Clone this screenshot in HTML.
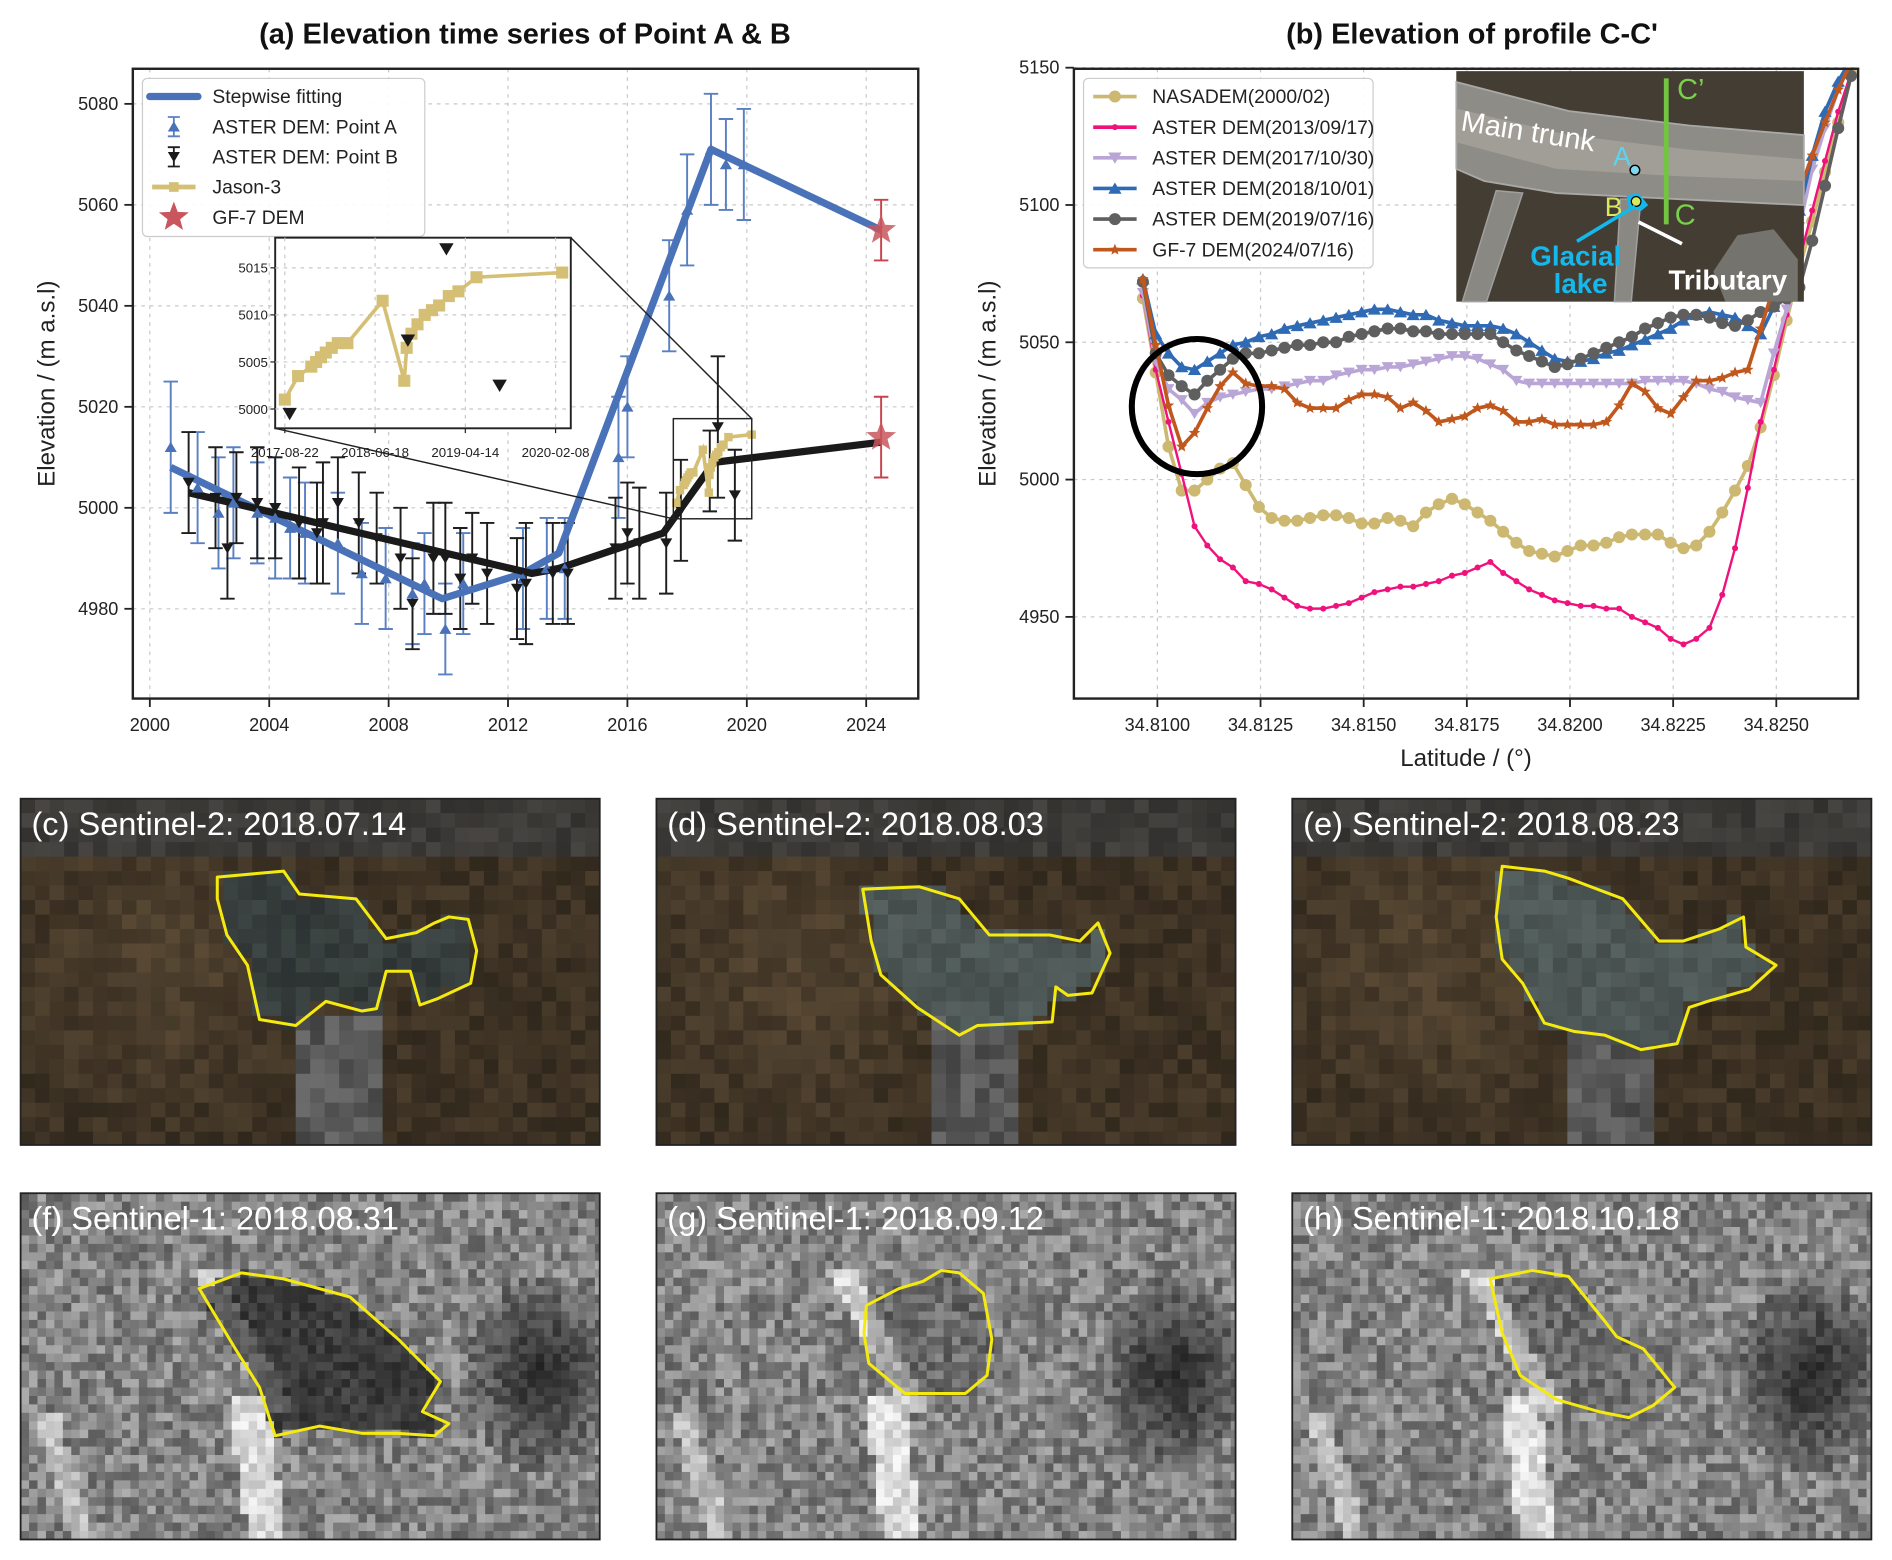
<!DOCTYPE html>
<html><head><meta charset="utf-8">
<style>
html,body{margin:0;padding:0;background:#fff;}
svg{display:block;font-family:"Liberation Sans",Arial,sans-serif;}
</style></head>
<body>
<svg id="root" width="1892" height="1560" viewBox="0 0 1568 1293" xmlns="http://www.w3.org/2000/svg">
<defs>
<clipPath id="clipA"><rect x="110" y="57" width="651" height="522"/></clipPath>
<clipPath id="clipB"><rect x="890" y="57" width="650" height="522"/></clipPath>
<clipPath id="clipIn"><rect x="228" y="197" width="245" height="158"/></clipPath>
</defs>
<g id="panelA"></g>
<g id="panelB"></g>
<g id="imgs"></g>
</svg>
<script>
// ---------- Panel (a) data ----------
const pointAYears=[2000.7,2001.6,2002.3,2002.8,2003.6,2004.2,2004.7,2005.2,2006.3,2007.1,2007.9,2008.8,2009.2,2009.9,2010.5,2012.5,2013.3,2013.9,2015.7,2016.0,2017.4,2018.0,2018.8,2019.3,2019.9];
const pointAVals=[5012,5004,4999,5001,4999,4998,4996,4995,4993,4987,4986,4983,4985,4976,4985,4986,4988,4988,5010,5020,5042,5059,5071,5068,5068];
const pointAErr=[13,11,11,11,10,12,10,10,10,10,10,10,10,9,10,10,10,10,12,10,11,11,11,9,11];
const pointBYears=[2001.3,2002.2,2002.6,2002.9,2003.6,2004.2,2005.0,2005.6,2005.8,2006.3,2007.0,2007.6,2008.4,2008.8,2009.5,2009.9,2010.4,2010.8,2011.3,2012.3,2012.6,2013.5,2014.0,2015.6,2016.0,2016.4,2017.3,2017.79,2018.76,2019.03,2019.6];
const pointBVals=[5005,5002,4992,5002,5001,5000,4997,4995,4997,5001,4997,4994,4990,4981,4990,4990,4986,4990,4987,4984,4985,4987,4987,4992,4995,4993,4993,4999.5,5007.3,5016,5002.5];
const pointBErr=[10,10,10,9,11,10,11,10,12,9,10,9,10,9,11,11,10,9,10,10,12,10,10,10,10,11,10,10,8,14,9];
const fitAYears=[2000.7,2009.8,2012.5,2013.7,2018.8,2024.5];
const fitAVals=[5008,4982,4987,4991,5071,5055];
const fitBYears=[2001.3,2012.8,2013.7,2017.2,2018.9,2024.5];
const fitBVals=[5003,4987,4988,4995,5009,5013];
const gf7Years=[2024.5,2024.5];
const gf7Vals=[5055,5014];
const gf7Err=[6,8];
const jasonDays=[0,44,88,104,120,136,156,176,208,325,397,405,421,441,465,489,513,545,577,637,922];
const jasonVals=[5001,5003.5,5004.5,5005,5005.5,5006,5006.5,5007,5007,5011.5,5003,5006.5,5008,5009,5010,5010.5,5011,5012,5012.5,5014,5014.5];
const insetBDays=[16,409,537,714];
const insetBVals=[4999.5,5007.3,5017,5002.5];
const aXTicks=[2000,2004,2008,2012,2016,2020,2024];
const aYTicks=[4980,5000,5020,5040,5060,5080];
const insetYTicks=[5000,5005,5010,5015];
const insetXTickDays=[0,300,600,900];
const insetXTickLabels=["2017-08-22","2018-06-18","2019-04-14","2020-02-08"];

// ---------- Panel (b) data ----------
const lats=[34.80965,34.80996,34.81027,34.81059,34.81090,34.81121,34.81152,34.81183,34.81214,34.81246,34.81277,34.81308,34.81339,34.81370,34.81402,34.81433,34.81464,34.81495,34.81526,34.81558,34.81589,34.81620,34.81651,34.81682,34.81714,34.81745,34.81776,34.81807,34.81838,34.81870,34.81901,34.81932,34.81963,34.81994,34.82026,34.82057,34.82088,34.82119,34.82150,34.82182,34.82213,34.82244,34.82275,34.82306,34.82338,34.82369,34.82400,34.82431,34.82462,34.82494,34.82525,34.82556,34.82587,34.82618,34.82650,34.82681];
const nasadem=[5066,5039,5012,4996,4996,5000,5004,5006,4998,4990,4986,4985,4985,4986,4987,4987,4986,4984,4984,4986,4985,4983,4988,4991,4993,4991,4988,4985,4981,4977,4974,4973,4972,4974,4976,4976,4977,4979,4980,4980,4980,4977,4975,4976,4981,4988,4996,5005,5019,5038,5058,5077,5094,5112,5130,5148];
const aster2013=[5067,5040,5021,5002,4983,4976,4971,4968,4963,4962,4960,4957,4954,4953,4953,4954,4955,4957,4959,4960,4961,4961,4962,4963,4965,4966,4968,4970,4966,4963,4960,4958,4956,4955,4954,4954,4953,4953,4950,4948,4946,4942,4940,4942,4946,4958,4975,4997,5021,5040,5060,5080,5098,5116,5134,5148];
const aster2017=[5068,5043,5033,5029,5024,5028,5030,5031,5032,5033,5033,5034,5035,5036,5036,5038,5039,5040,5040,5041,5041,5042,5043,5044,5045,5045,5044,5042,5040,5036,5035,5035,5035,5035,5035,5035,5035,5035,5035,5036,5036,5036,5036,5035,5033,5032,5030,5029,5028,5046,5062,5092,5113,5128,5142,5152];
const aster2018=[5073,5053,5046,5041,5040,5043,5046,5049,5050,5052,5053,5055,5056,5057,5058,5059,5060,5061,5062,5062,5061,5060,5060,5058,5057,5056,5056,5056,5055,5053,5050,5047,5044,5043,5043,5044,5046,5047,5049,5051,5053,5055,5058,5060,5061,5060,5059,5056,5053,5063,5076,5098,5118,5134,5145,5153];
const aster2019=[5072,5046,5038,5034,5031,5036,5040,5044,5046,5046,5047,5048,5049,5049,5050,5050,5052,5053,5054,5055,5055,5054,5054,5053,5053,5053,5053,5053,5050,5047,5045,5043,5041,5042,5044,5046,5048,5050,5052,5055,5057,5059,5060,5060,5059,5057,5056,5058,5061,5063,5066,5070,5087,5107,5128,5147];
const gf7Profile=[5073,5049,5027,5012,5017,5026,5034,5039,5035,5034,5034,5033,5028,5026,5026,5026,5029,5031,5031,5030,5026,5028,5025,5021,5022,5023,5026,5027,5025,5021,5021,5022,5020,5020,5020,5020,5021,5027,5035,5032,5026,5024,5030,5036,5036,5037,5039,5040,5055,5070,5090,5105,5118,5130,5142,5152];
const bXTicks=[34.81,34.8125,34.815,34.8175,34.82,34.8225,34.825];
const bXTickLabels=["34.8100","34.8125","34.8150","34.8175","34.8200","34.8225","34.8250"];
const bYTicks=[4950,5000,5050,5100,5150];

const NS="http://www.w3.org/2000/svg";
function mk(tag,attrs,parent){const e=document.createElementNS(NS,tag);for(const k in attrs)e.setAttribute(k,attrs[k]);if(parent)parent.appendChild(e);return e;}
function txt(s,attrs,parent){const e=mk("text",attrs,parent);e.textContent=s;return e;}

const xA=y=>124.1+(y-2000)*24.74;
const yA=v=>420.9-(v-5000)*4.185;
const xB=l=>959.2+(l-34.81)*34200;
const yB=v=>397.5-(v-5000)*2.276;
const xIn=d=>236+d*74.8/300;
const yIn=v=>339-(v-5000)*7.8;
const jDayToYear=d=>2017.64+d/365.25;

function tri(g,x,y,s,down,fill,name){
  const p=down?`${x-s},${y-s*0.8} ${x+s},${y-s*0.8} ${x},${y+s*0.9}`:`${x-s},${y+s*0.8} ${x+s},${y+s*0.8} ${x},${y-s*0.9}`;
  const e=mk("polygon",{points:p,fill:fill},g);
  
  
  return e;
}
function star(cx,cy,R,r){let p=[];for(let i=0;i<10;i++){const a=-Math.PI/2+i*Math.PI/5;const rr=i%2?r:R;p.push((cx+rr*Math.cos(a)).toFixed(1)+","+(cy+rr*Math.sin(a)).toFixed(1));}return p.join(" ");}

// ===================== PANEL A =====================
(function(){
const g=document.getElementById("panelA");
const t=txt("(a) Elevation time series of Point A & B",{x:435,y:36,"text-anchor":"middle","font-size":24,"font-weight":"bold",fill:"#111"},g);


const grid=mk("g",{stroke:"#c8c8c8","stroke-width":1,"stroke-dasharray":"3,4"},g);


aXTicks.forEach(v=>{mk("line",{x1:xA(v),x2:xA(v),y1:57,y2:579},grid);});
aYTicks.forEach(v=>{mk("line",{x1:110,x2:761,y1:yA(v),y2:yA(v)},grid);});
const ax=mk("g",{},g);


aXTicks.forEach(v=>{mk("line",{x1:xA(v),x2:xA(v),y1:579,y2:586,stroke:"#222","stroke-width":1.5},ax);
  const l=txt(String(v),{x:xA(v),y:606,"text-anchor":"middle","font-size":15,fill:"#222"},ax);
  
  });
aYTicks.forEach(v=>{mk("line",{x1:103,x2:110,y1:yA(v),y2:yA(v),stroke:"#222","stroke-width":1.5},ax);
  const l=txt(String(v),{x:98,y:yA(v)+5,"text-anchor":"end","font-size":15,fill:"#222"},ax);
  
  });
const yl=txt("Elevation / (m a.s.l)",{x:0,y:0,"text-anchor":"middle","font-size":20,fill:"#222",transform:"translate(45,318) rotate(-90)"},ax);



const pg=mk("g",{"clip-path":"url(#clipA)"},g);
const ea=mk("g",{stroke:"#5b80c2","stroke-width":1.6,fill:"none"},pg);


pointAYears.forEach((yr,i)=>{const x=xA(yr),t=yA(pointAVals[i]+pointAErr[i]),b=yA(pointAVals[i]-pointAErr[i]);
  mk("path",{d:`M${x},${t}V${b}M${x-6},${t}H${x+6}M${x-6},${b}H${x+6}`},ea);});
const eb=mk("g",{stroke:"#1e1e1e","stroke-width":1.6,fill:"none"},pg);


pointBYears.forEach((yr,i)=>{const x=xA(yr),t=yA(pointBVals[i]+pointBErr[i]),b=yA(pointBVals[i]-pointBErr[i]);
  mk("path",{d:`M${x},${t}V${b}M${x-6},${t}H${x+6}M${x-6},${b}H${x+6}`},eb);});
const fa=mk("polyline",{points:fitAYears.map((y,i)=>xA(y)+","+yA(fitAVals[i])).join(" "),fill:"none",stroke:"#4a72b8","stroke-width":6,"stroke-linejoin":"round"},pg);


const fb=mk("polyline",{points:fitBYears.map((y,i)=>xA(y)+","+yA(fitBVals[i])).join(" "),fill:"none",stroke:"#1a1a1a","stroke-width":6,"stroke-linejoin":"round"},pg);


pointAYears.forEach((yr,i)=>tri(pg,xA(yr),yA(pointAVals[i]),5,false,"#4a72b8","point-a-marker"));
pointBYears.forEach((yr,i)=>tri(pg,xA(yr),yA(pointBVals[i]),5,true,"#1a1a1a","point-b-marker"));
const jl=mk("polyline",{points:jasonDays.map((d,i)=>xA(jDayToYear(d))+","+yA(jasonVals[i])).join(" "),fill:"none",stroke:"#d4bf74","stroke-width":3},pg);


jasonDays.forEach((d,i)=>{const r=mk("rect",{x:xA(jDayToYear(d))-3.5,y:yA(jasonVals[i])-3.5,width:7,height:7,fill:"#d4bf74"},pg);
  
  });
gf7Years.forEach((yr,i)=>{const x=xA(yr),v=gf7Vals[i];
  const e=mk("path",{d:`M${x},${yA(v+gf7Err[i])}V${yA(v-gf7Err[i])}M${x-6},${yA(v+gf7Err[i])}H${x+6}M${x-6},${yA(v-gf7Err[i])}H${x+6}`,stroke:"#c8414b","stroke-width":1.6,fill:"none"},pg);
  
  
  const s=mk("polygon",{points:star(x,yA(v),13,5.5),fill:"#c8565c","fill-opacity":0.85},pg);
  
  });
const zr=mk("rect",{x:558,y:347,width:65,height:83,fill:"none",stroke:"#222","stroke-width":1.2},g);


mk("line",{x1:473,y1:197,x2:623,y2:347,stroke:"#222","stroke-width":1.2},g);
mk("line",{x1:228,y1:355,x2:558,y2:430,stroke:"#222","stroke-width":1.2},g);
mk("rect",{x:110,y:57,width:651,height:522,fill:"none",stroke:"#222","stroke-width":2},g);

const lg=mk("g",{},g);


mk("rect",{x:118,y:65,width:234,height:131,rx:4,fill:"#fff","fill-opacity":0.9,stroke:"#ccc","stroke-width":1},lg);
const ly=[80,105,130,155,180];
mk("line",{x1:124,x2:164,y1:ly[0],y2:ly[0],stroke:"#4a72b8","stroke-width":6,"stroke-linecap":"round"},lg);
mk("path",{d:`M144,${ly[1]-8}V${ly[1]+8}M139,${ly[1]-8}H149M139,${ly[1]+8}H149`,stroke:"#5b80c2","stroke-width":1.5},lg);
tri(lg,144,ly[1],5,false,"#4a72b8","legend-marker-a");
mk("path",{d:`M144,${ly[2]-8}V${ly[2]+8}M139,${ly[2]-8}H149M139,${ly[2]+8}H149`,stroke:"#1e1e1e","stroke-width":1.5},lg);
tri(lg,144,ly[2],5,true,"#1a1a1a","legend-marker-b");
mk("line",{x1:126,x2:162,y1:ly[3],y2:ly[3],stroke:"#d4bf74","stroke-width":4},lg);
mk("rect",{x:140,y:ly[3]-4,width:8,height:8,fill:"#d4bf74"},lg);
mk("polygon",{points:star(144,ly[4],13,5.5),fill:"#c8565c"},lg);
["Stepwise fitting","ASTER DEM: Point A","ASTER DEM: Point B","Jason-3","GF-7 DEM"].forEach((s,i)=>{
  const e=txt(s,{x:176,y:ly[i]+5.5,"font-size":16,fill:"#222"},lg);
  
  });

const ig=mk("g",{},g);


mk("rect",{x:228,y:197,width:245,height:158,fill:"#fff",stroke:"#222","stroke-width":1.6},ig);
const ig2=mk("g",{stroke:"#c8c8c8","stroke-width":1,"stroke-dasharray":"3,4"},ig);
insetXTickDays.forEach(d=>mk("line",{x1:xIn(d),x2:xIn(d),y1:197,y2:355},ig2));
insetYTicks.forEach(v=>mk("line",{x1:228,x2:473,y1:yIn(v),y2:yIn(v)},ig2));
insetYTicks.forEach(v=>{mk("line",{x1:224,x2:228,y1:yIn(v),y2:yIn(v),stroke:"#222"},ig);
  const l=txt(String(v),{x:222,y:yIn(v)+4,"text-anchor":"end","font-size":11,fill:"#222"},ig);
  
  });
insetXTickDays.forEach((d,i)=>{mk("line",{x1:xIn(d),x2:xIn(d),y1:355,y2:359,stroke:"#222"},ig);
  const l=txt(insetXTickLabels[i],{x:xIn(d),y:379,"text-anchor":"middle","font-size":11,fill:"#222"},ig);
  
  });
const ic=mk("g",{"clip-path":"url(#clipIn)"},ig);
mk("polyline",{points:jasonDays.map((d,i)=>xIn(d)+","+yIn(jasonVals[i])).join(" "),fill:"none",stroke:"#d4bf74","stroke-width":3},ic);
jasonDays.forEach((d,i)=>{const r=mk("rect",{x:xIn(d)-5,y:yIn(jasonVals[i])-5,width:10,height:10,fill:"#d4bf74"},ic);
  
  });
insetBDays.forEach((d,i)=>tri(ic,xIn(d),yIn(insetBVals[i]),6,true,"#1a1a1a","inset-point-b-marker"));
})();

// ===================== PANEL B =====================
(function(){
const g=document.getElementById("panelB");
const t=txt("(b) Elevation of profile C-C'",{x:1220,y:36,"text-anchor":"middle","font-size":24,"font-weight":"bold",fill:"#111"},g);


const grid=mk("g",{stroke:"#c8c8c8","stroke-width":1,"stroke-dasharray":"3,4"},g);


bXTicks.forEach(v=>mk("line",{x1:xB(v),x2:xB(v),y1:57,y2:579},grid));
bYTicks.forEach(v=>mk("line",{x1:890,x2:1540,y1:yB(v),y2:yB(v)},grid));
const ax=mk("g",{},g);


bXTicks.forEach((v,i)=>{mk("line",{x1:xB(v),x2:xB(v),y1:579,y2:586,stroke:"#222","stroke-width":1.5},ax);
  const l=txt(bXTickLabels[i],{x:xB(v),y:606,"text-anchor":"middle","font-size":15,fill:"#222"},ax);
  
  });
bYTicks.forEach(v=>{mk("line",{x1:883,x2:890,y1:yB(v),y2:yB(v),stroke:"#222","stroke-width":1.5},ax);
  const l=txt(String(v),{x:878,y:yB(v)+5,"text-anchor":"end","font-size":15,fill:"#222"},ax);
  
  });
const yl=txt("Elevation / (m a.s.l)",{x:0,y:0,"text-anchor":"middle","font-size":20,fill:"#222",transform:"translate(825,318) rotate(-90)"},ax);


const xl=txt("Latitude / (°)",{x:1215,y:635,"text-anchor":"middle","font-size":20,fill:"#222"},ax);



const pg=mk("g",{"clip-path":"url(#clipB)"},g);
const series=[
 {name:"nasadem",vals:nasadem,color:"#cdb872",w:3,m:"circle",ms:5},
 {name:"aster-2013",vals:aster2013,color:"#f0127c",w:2,m:"circle",ms:2.5},
 {name:"aster-2017",vals:aster2017,color:"#b9a6d6",w:3,m:"down",ms:5},
 {name:"aster-2018",vals:aster2018,color:"#2f6ab5",w:3,m:"up",ms:5.5},
 {name:"aster-2019",vals:aster2019,color:"#5f5f5f",w:3,m:"circle",ms:5},
 {name:"gf7-2024",vals:gf7Profile,color:"#c0571d",w:3,m:"star",ms:5}];
series.forEach(s=>{
  const sg=mk("g",{},pg);
  
  
  mk("polyline",{points:lats.map((l,i)=>xB(l)+","+yB(s.vals[i])).join(" "),fill:"none",stroke:s.color,"stroke-width":s.w,"stroke-linejoin":"round"},sg);
  lats.forEach((l,i)=>{const x=xB(l),y=yB(s.vals[i]);let e;
    if(s.m==="circle")e=mk("circle",{cx:x,cy:y,r:s.ms,fill:s.color},sg);
    else if(s.m==="star")e=mk("polygon",{points:star(x,y,s.ms,2.2),fill:s.color},sg);
    else e=tri(sg,x,y,s.ms,s.m==="down",s.color,'profile-marker');
    
    });
});
const circ=mk("ellipse",{cx:992,cy:337,rx:54,ry:56,fill:"none",stroke:"#000","stroke-width":5},g);


mk("rect",{x:890,y:57,width:650,height:522,fill:"none",stroke:"#222","stroke-width":2},g);

const lg=mk("g",{},g);


mk("rect",{x:898,y:65,width:240,height:157,rx:4,fill:"#fff","fill-opacity":0.9,stroke:"#ccc","stroke-width":1},lg);
const labels=["NASADEM(2000/02)","ASTER DEM(2013/09/17)","ASTER DEM(2017/10/30)","ASTER DEM(2018/10/01)","ASTER DEM(2019/07/16)","GF-7 DEM(2024/07/16)"];
series.forEach((s,i)=>{const y=80+i*25.4;
  mk("line",{x1:906,x2:942,y1:y,y2:y,stroke:s.color,"stroke-width":3},lg);
  if(s.m==="circle")mk("circle",{cx:924,cy:y,r:s.ms,fill:s.color},lg);
  else if(s.m==="star")mk("polygon",{points:star(924,y,5,2.2),fill:s.color},lg);
  else tri(lg,924,y,5.5,s.m==="down",s.color,'legend-marker');
  const e=txt(labels[i],{x:955,y:y+5.5,"font-size":16,fill:"#222"},lg);
  
  });

const si=mk("g",{},g);


mk("rect",{x:1207,y:59,width:288,height:191,fill:"#4b4236"},si);
mk("rect",{x:1207,y:59,width:288,height:191,fill:"#3a3630","fill-opacity":0.4},si);
mk("path",{d:"M1207,68 L1300,92 L1400,104 L1495,112 L1495,170 L1390,165 L1290,160 L1230,150 L1207,140 Z",fill:"#8e8c86",stroke:"#a8a8a8","stroke-width":1.5},si);
mk("path",{d:"M1207,90 L1300,112 L1400,124 L1495,132 L1495,150 L1390,146 L1290,140 L1207,118 Z",fill:"#a09e96"},si);
mk("path",{d:"M1240,158 L1262,160 L1232,250 L1212,250 Z",fill:"#8a8882",stroke:"#a0a0a0","stroke-width":1.2},si);
mk("path",{d:"M1343,165 L1360,165 L1352,250 L1338,250 Z",fill:"#8a8882",stroke:"#a0a0a0","stroke-width":1.2},si);
mk("path",{d:"M1420,225 L1440,195 L1470,190 L1490,215 L1490,250 L1430,250 Z",fill:"#8a8a86","fill-opacity":0.7},si);
mk("line",{x1:1381,y1:65,x2:1381,y2:186,stroke:"#72c442","stroke-width":4},si);
txt("C’",{x:1390,y:82,"font-size":24,fill:"#7ad04c"},si);
txt("C",{x:1388,y:186,"font-size":24,fill:"#7ad04c"},si);
const mt=txt("Main trunk",{x:0,y:0,"font-size":24,fill:"#fff",transform:"translate(1210,108) rotate(9)"},si);


txt("A",{x:1337,y:137,"font-size":22,fill:"#5cd4f0"},si);
mk("circle",{cx:1355,cy:141,r:4,fill:"#7fd8f0",stroke:"#000","stroke-width":1.2},si);
txt("B",{x:1330,y:179,"font-size":22,fill:"#d8e860"},si);
mk("path",{d:"M1348,162 L1358,160 L1366,170 L1360,175 L1350,172 Z",fill:"#14b8ec"},si);
mk("circle",{cx:1356,cy:167,r:4,fill:"#d8e860",stroke:"#000","stroke-width":1},si);
mk("line",{x1:1355,y1:171,x2:1307,y2:200,stroke:"#14b8ec","stroke-width":3},si);
mk("line",{x1:1358,y1:184,x2:1394,y2:202,stroke:"#fff","stroke-width":3},si);
txt("Glacial",{x:1306,y:220,"text-anchor":"middle","font-size":23,"font-weight":"bold",fill:"#14b8ec"},si);
txt("lake",{x:1310,y:243,"text-anchor":"middle","font-size":23,"font-weight":"bold",fill:"#14b8ec"},si);
txt("Tributary",{x:1432,y:240,"text-anchor":"middle","font-size":23,"font-weight":"bold",fill:"#fff"},si);
})();

// ===================== IMAGE PANELS =====================
(function(){
const g=document.getElementById("imgs");
let seed=12345;
function rnd(){seed=(seed*1103515245+12345)%2147483648;return seed/2147483648;}
const cols=[17,544,1071];
const rows=[662,989];
const W=480,H=287;
const titles=[["(c) Sentinel-2: 2018.07.14","(d) Sentinel-2: 2018.08.03","(e) Sentinel-2: 2018.08.23"],
              ["(f) Sentinel-1: 2018.08.31","(g) Sentinel-1: 2018.09.12","(h) Sentinel-1: 2018.10.18"]];
const polys=[
 ["180,727 235,722 248,741 295,745 320,778 345,773 360,765 372,760 388,762 395,788 390,815 362,828 348,833 340,805 320,805 312,836 300,838 270,830 245,850 215,845 205,800 188,775 180,745",
  "715,737 762,735 795,745 820,775 870,775 895,780 910,765 920,790 905,823 885,825 875,818 872,847 810,850 795,858 760,835 730,808 722,780",
  "1245,718 1280,722 1300,728 1345,745 1375,780 1395,780 1425,770 1445,760 1447,785 1472,800 1450,820 1415,830 1400,835 1390,865 1360,870 1330,858 1305,855 1280,848 1262,815 1245,795 1240,760"],
 ["165,1068 200,1055 235,1060 290,1075 330,1110 365,1145 350,1170 372,1180 360,1190 330,1188 300,1188 265,1182 228,1190 215,1150 195,1118",
  "718,1082 745,1068 765,1062 780,1053 795,1055 815,1072 822,1110 818,1140 800,1155 750,1155 720,1130 716,1105",
  "1235,1060 1270,1053 1300,1058 1330,1095 1340,1108 1362,1118 1388,1150 1370,1165 1350,1175 1325,1170 1290,1160 1260,1140 1245,1105"]];
function parse(s){return s.split(" ").map(p=>p.split(",").map(Number));}
function inside(pt,poly){let x=pt[0],y=pt[1],c=false;for(let i=0,j=poly.length-1;i<poly.length;j=i++){const xi=poly[i][0],yi=poly[i][1],xj=poly[j][0],yj=poly[j][1];if(((yi>y)!=(yj>y))&&(x<(xj-xi)*(y-yi)/(yj-yi)+xi))c=!c;}return c;}
for(let r=0;r<2;r++)for(let c=0;c<3;c++){
  const ox=cols[c],oy=rows[r];
  const poly=parse(polys[r][c]);
  const pg=mk("g",{},g);
  
  
  const cs=r===0?12:7;
  const nx=Math.ceil(W/cs),ny=Math.ceil(H/cs);
  for(let j=0;j<ny;j++)for(let i=0;i<nx;i++){
    const px=i*cs+cs/2,py=j*cs+cs/2;
    const inP=inside([ox+px,oy+py],poly);
    let R,G,B;
    if(r===0){
      let base=40+rnd()*22;
      const d=Math.hypot(px-120,py-140);
      if(d<140)base+=16*(1-d/140);
      R=base*1.22;G=base*1.0;B=base*0.72;
      if(px>225&&px<300&&py>185){const v=65+rnd()*45;R=G=B=v;}
      if(py<45){const v=48+rnd()*22;R=v*1.03;G=v;B=v*0.95;}
      if(inP){const v=(c===0?50:75)+rnd()*22;R=v*0.9;G=v*1.02;B=v*1.0;}
    }else{
      let v=90+rnd()*85;
      if(Math.abs(px-(205-(H-py)*0.15))<16&&py>170)v=190+rnd()*60;
      if(Math.abs(px-(150+(py-60)*0.55))<11&&py>60&&py<180)v=175+rnd()*70;
      if(Math.abs(px-(20+(py-180)*0.3))<10&&py>180)v=160+rnd()*60;
      const db=Math.hypot((px-430)/60,(py-150)/80);
      if(db<1)v*=0.3+0.55*db;
      if(c===0&&inP)v*=0.45;
      if(c===1&&inP)v*=0.8;
      if(c===2&&inP)v*=0.85;
      v=Math.min(255,v);R=G=B=v;
    }
    mk("rect",{x:ox+i*cs,y:oy+j*cs,width:Math.min(cs,W-i*cs)+0.3,height:Math.min(cs,H-j*cs)+0.3,fill:`rgb(${R|0},${G|0},${B|0})`},pg);
  }
  const pl=mk("polygon",{points:polys[r][c],fill:"none",stroke:"#f5ea10","stroke-width":2.5,"stroke-linejoin":"round"},pg);
  
  
  mk("rect",{x:ox,y:oy,width:W,height:H,fill:"none",stroke:"#222","stroke-width":1.5},pg);
  const t=txt(titles[r][c],{x:ox+9,y:oy+30,"font-size":27,fill:"#fff"},pg);
  
  
}
})();
</script>
</body></html>
